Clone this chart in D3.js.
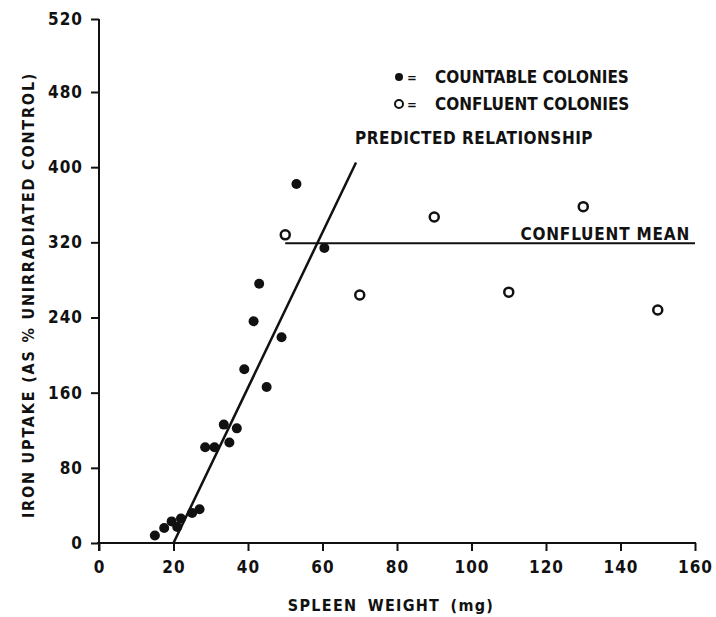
<!DOCTYPE html>
<html>
<head>
<meta charset="utf-8">
<script src="https://cdn.jsdelivr.net/npm/d3@7"></script>
<style>
  body { margin: 0; background: #fff; }
  svg text {
    font-family: "DejaVu Sans Condensed", "DejaVu Sans", sans-serif;
    font-weight: bold;
    fill: #111;
  }
</style>
</head>
<body>
<div id="wrapper"></div>
<script>
// Data
const xTicks = [0, 20, 40, 60, 80, 100, 120, 140, 160];
const yTicks = [0, 80, 160, 240, 320, 400, 480, 520];

// solid dots = countable colonies
const countableWeight = [15, 17.5, 19.5, 21, 22, 25, 27, 28.5, 31, 33.5, 35, 37, 39, 41.5, 43, 45, 49, 53, 60.5];
const countableUptake = [8, 16, 23, 17, 26, 32, 36, 102, 102, 126, 107, 122, 185, 236, 276, 166, 219, 382, 314];

// open circles = confluent colonies
const confluentWeight = [50, 70, 90, 110, 130, 150];
const confluentUptake = [328, 264, 347, 267, 358, 248];

// reference lines
const predictedWeight = [20, 69];
const predictedUptake = [0, 405];
const meanWeight = [50, 160];
const meanUptake = [319, 319];

const legendLabels = ["COUNTABLE COLONIES", "CONFLUENT COLONIES"];

const width = 716;
const height = 617;

const svg = d3
  .select("#wrapper")
  .append("svg")
  .attr("width", width)
  .attr("height", height);

// Scales (the printed y axis stretches the last 480-520 step)
const xScale = d3.scaleLinear().domain([0, 160]).range([99, 695]);
const yScale = d3.scaleLinear().domain([0, 480, 520]).range([543, 92, 19]);

// Axes
const xAxis = svg
  .append("g")
  .attr("transform", `translate(0,${yScale(0)})`)
  .call(
    d3.axisBottom(xScale).tickValues(xTicks).tickSize(8).tickPadding(10).tickSizeOuter(0)
  );
const yAxis = svg
  .append("g")
  .attr("transform", `translate(${xScale(0)},0)`)
  .call(
    d3.axisLeft(yScale).tickValues(yTicks).tickSize(8).tickPadding(8).tickSizeOuter(0)
  );

[xAxis, yAxis].forEach((ax) => {
  ax.select(".domain").attr("stroke", "#111").attr("stroke-width", 2);
  ax.selectAll(".tick line").attr("stroke", "#111").attr("stroke-width", 2);
  ax.selectAll(".tick text")
    .attr("fill", "#111")
    .style("font-size", "17px")
    .style("letter-spacing", "1px");
});
// y axis runs a little below the x axis
yAxis.select(".domain").attr("d", `M0,${yScale(520)}V${yScale(0) + 8}`);
xAxis.select(".domain").attr("d", `M${xScale(0) - 2},0H${xScale(160) + 1}`);

// Axis titles
svg
  .append("text")
  .attr("x", 391)
  .attr("y", 611)
  .attr("text-anchor", "middle")
  .style("font-size", "16px")
  .style("letter-spacing", "1.3px")
  .style("word-spacing", "4px")
  .text("SPLEEN WEIGHT (mg)");

svg
  .append("text")
  .attr("transform", `translate(34,${yScale(264)}) rotate(-90)`)
  .attr("text-anchor", "middle")
  .style("font-size", "16px")
  .style("letter-spacing", "1.8px")
  .text("IRON UPTAKE (AS % UNIRRADIATED CONTROL)");

// Lines
const lineGenerator = d3
  .line()
  .x((d) => xScale(d[0]))
  .y((d) => yScale(d[1]));

svg
  .append("path")
  .attr("d", lineGenerator(d3.zip(predictedWeight, predictedUptake)))
  .attr("fill", "none")
  .attr("stroke", "#111")
  .attr("stroke-width", 2.5);

svg
  .append("path")
  .attr("d", lineGenerator(d3.zip(meanWeight, meanUptake)))
  .attr("fill", "none")
  .attr("stroke", "#111")
  .attr("stroke-width", 2);

// Points
svg
  .append("g")
  .selectAll("circle")
  .data(d3.zip(countableWeight, countableUptake))
  .join("circle")
  .attr("cx", (d) => xScale(d[0]))
  .attr("cy", (d) => yScale(d[1]))
  .attr("r", 5)
  .attr("fill", "#111");

svg
  .append("g")
  .selectAll("circle")
  .data(d3.zip(confluentWeight, confluentUptake))
  .join("circle")
  .attr("cx", (d) => xScale(d[0]))
  .attr("cy", (d) => yScale(d[1]))
  .attr("r", 4.5)
  .attr("fill", "#fff")
  .attr("stroke", "#111")
  .attr("stroke-width", 2.5);

// Annotations
svg
  .append("text")
  .attr("x", 355)
  .attr("y", 144)
  .style("font-size", "17px")
  .style("letter-spacing", "0.5px")
  .text("PREDICTED RELATIONSHIP");

svg
  .append("text")
  .attr("x", 690)
  .attr("y", yScale(319) - 3)
  .attr("text-anchor", "end")
  .style("font-size", "17px")
  .style("letter-spacing", "0.8px")
  .text("CONFLUENT MEAN");

// Legend
const legend = svg.append("g").attr("transform", "translate(399,77)");
legend.append("circle").attr("r", 4).attr("fill", "#111");
legend
  .append("circle")
  .attr("cy", 27)
  .attr("r", 4)
  .attr("fill", "#fff")
  .attr("stroke", "#111")
  .attr("stroke-width", 2);
const legendRows = legend
  .selectAll("g")
  .data(legendLabels)
  .join("g")
  .attr("transform", (d, i) => `translate(0,${i * 27 + 6})`);
legendRows
  .append("text")
  .attr("x", 8)
  .attr("y", -1)
  .style("font-size", "13px")
  .text("=");
legendRows
  .append("text")
  .attr("x", 36)
  .style("font-size", "17px")
  .text((d) => d);
</script>
</body>
</html>
